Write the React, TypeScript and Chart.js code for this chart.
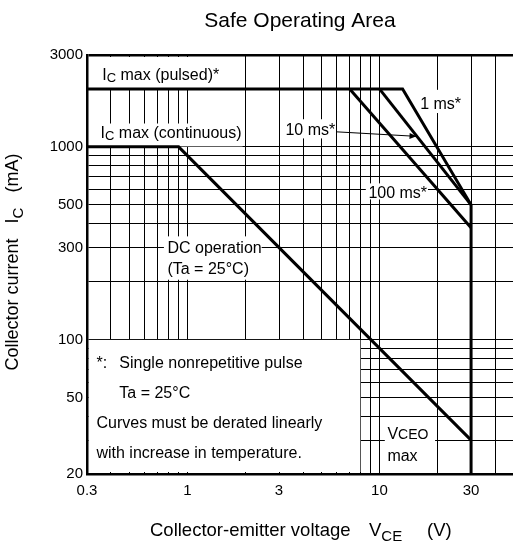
import React, { useEffect, useRef } from 'react';
import { Chart, registerables } from 'chart.js';

Chart.register(...registerables);

// ---- data ----
const chartTitle = 'Safe Operating Area';
const xGridValues = [0.3, 0.4, 0.5, 0.6, 0.7, 0.8, 0.9, 1, 2, 3, 4, 5, 6, 7, 8, 9, 10, 20, 30, 40];
const xTickLabels = [0.3, 1, 3, 10, 30];
const yGridValues = [20, 30, 40, 50, 60, 70, 80, 90, 100, 200, 300, 400, 500, 600, 700, 800, 900, 1000, 3000];
const yTickLabels = [20, 50, 100, 300, 500, 1000, 3000];

// pulsed Ic max + 1 ms limit + VCEO max
const envelopeX = [0.3, 13.2, 30, 30];
const envelopeY = [2000, 2000, 500, 20];
// 10 ms
const ms10X = [10, 30];
const ms10Y = [2000, 500];
// 100 ms
const ms100X = [7, 30];
const ms100Y = [2000, 380];
// DC operation (incl. Ic max continuous)
const dcX = [0.3, 0.9, 30];
const dcY = [1000, 1000, 30];

const curves = [
  { x: envelopeX, y: envelopeY },
  { x: ms10X, y: ms10Y },
  { x: ms100X, y: ms100Y },
  { x: dcX, y: dcY },
];

const FONT = '"Liberation Sans", Arial, Helvetica, sans-serif';

type Part = { t: string; s: number; dy?: number };

function drawParts(ctx: CanvasRenderingContext2D, parts: Part[], x: number, baseline: number) {
  let cx = x;
  for (const p of parts) {
    ctx.font = `${p.s}px ${FONT}`;
    ctx.fillText(p.t, cx, baseline + (p.dy || 0));
    cx += ctx.measureText(p.t).width;
  }
  return cx;
}
function partsWidth(ctx: CanvasRenderingContext2D, parts: Part[]) {
  let w = 0;
  for (const p of parts) {
    ctx.font = `${p.s}px ${FONT}`;
    w += ctx.measureText(p.t).width;
  }
  return w;
}

// label backgrounds (data-space rectangles) that hide grid lines
const labelBoxes = [
  { x0: 0.3, x1: 1.95, y0: 3000, y1: 2000 },
  { x0: 0.3, x1: 1.95, y0: 1330, y1: 1000 },
  { x0: 0.75, x1: 2.45, y0: 345, y1: 203 },
  { x0: 3.12, x1: 5.9, y0: 1400, y1: 1100 },
  { x0: 15.8, x1: 27.5, y0: 1990, y1: 1490 },
  { x0: 8.44, x1: 18.0, y0: 650, y1: 530 },
  { x0: 10.6, x1: 19.6, y0: 36, y1: 20 },
  { x0: 0.3, x1: 8, y0: 100, y1: 20 },
];

const S = 16;
const SUB = 13;
const labels: { parts: Part[]; x: number; y: number }[] = [
  { parts: [{ t: 'I', s: S }, { t: 'C', s: SUB, dy: 2 }, { t: ' max (pulsed)*', s: S }], x: 0.36, y: 2370 },
  { parts: [{ t: 'I', s: S }, { t: 'C', s: SUB, dy: 2 }, { t: ' max (continuous)', s: S }], x: 0.353, y: 1197 },
  { parts: [{ t: 'DC operation', s: S }], x: 0.787, y: 300 },
  { parts: [{ t: '(Ta = 25°C)', s: S }], x: 0.787, y: 234 },
  { parts: [{ t: '10 ms*', s: S }], x: 3.24, y: 1241 },
  { parts: [{ t: '1 ms*', s: S }], x: 16.3, y: 1675 },
  { parts: [{ t: '100 ms*', s: S }], x: 8.76, y: 583 },
  { parts: [{ t: 'V', s: S }, { t: 'CEO', s: 14, dy: 0 }], x: 11.0, y: 32.4 },
  { parts: [{ t: 'max', s: S }], x: 11.0, y: 25.1 },
  { parts: [{ t: '*:', s: S }], x: 0.336, y: 76 },
  { parts: [{ t: 'Single nonrepetitive pulse', s: S }], x: 0.442, y: 76 },
  { parts: [{ t: 'Ta = 25°C', s: S }], x: 0.442, y: 53 },
  { parts: [{ t: 'Curves must be derated linearly', s: S }], x: 0.336, y: 37 },
  { parts: [{ t: 'with increase in temperature.', s: S }], x: 0.336, y: 26 },
];

const arrowFrom = { x: 5.98, y: 1197 };
const arrowTo = { x: 15.6, y: 1134 };

const annotationPlugin = {
  id: 'soaAnnotations',
  beforeDatasetsDraw(chart: any) {
    const { ctx, scales } = chart;
    const xs = scales.x;
    const ys = scales.y;
    const px = (v: number) => xs.getPixelForValue(v);
    const py = (v: number) => ys.getPixelForValue(v);
    const area = chart.chartArea;
    ctx.save();
    ctx.fillStyle = '#ffffff';
    for (const b of labelBoxes) {
      let l = px(b.x0) + 0.5;
      let r = px(b.x1) - 0.5;
      let t = py(b.y0) + 0.5;
      let btm = py(b.y1) - 0.5;
      if (l < area.left + 2) l = area.left + 2;
      if (btm > area.bottom - 2) btm = area.bottom - 2;
      if (t < area.top + 2) t = area.top + 2;
      ctx.fillRect(l, t, r - l, btm - t);
    }
    ctx.fillStyle = '#000';
    ctx.textBaseline = 'alphabetic';
    ctx.textAlign = 'left';
    for (const lb of labels) {
      const base = py(lb.y) + 0.358 * S;
      drawParts(ctx, lb.parts, px(lb.x), base);
    }
    // arrow for 10 ms
    const ax0 = px(arrowFrom.x), ay0 = py(arrowFrom.y);
    const ax1 = px(arrowTo.x), ay1 = py(arrowTo.y);
    ctx.strokeStyle = '#000';
    ctx.lineWidth = 1;
    ctx.beginPath();
    ctx.moveTo(ax0, ay0);
    ctx.lineTo(ax1, ay1);
    ctx.stroke();
    const ang = Math.atan2(ay1 - ay0, ax1 - ax0);
    const hl = 7, hw = 3;
    ctx.beginPath();
    ctx.moveTo(ax1, ay1);
    ctx.lineTo(ax1 - hl * Math.cos(ang) + hw * Math.sin(ang), ay1 - hl * Math.sin(ang) - hw * Math.cos(ang));
    ctx.lineTo(ax1 - hl * Math.cos(ang) - hw * Math.sin(ang), ay1 - hl * Math.sin(ang) + hw * Math.cos(ang));
    ctx.closePath();
    ctx.fill();
    ctx.restore();
  },
  afterDraw(chart: any) {
    const { ctx } = chart;
    ctx.save();
    ctx.fillStyle = '#000';
    ctx.textBaseline = 'alphabetic';
    ctx.textAlign = 'left';
    // chart title
    ctx.font = `21px ${FONT}`;
    const tw = ctx.measureText(chartTitle).width;
    ctx.fillText(chartTitle, 300 - tw / 2, 27);
    // x-axis title
    drawParts(ctx, [{ t: 'Collector-emitter voltage', s: 18.5 }], 150, 536);
    drawParts(ctx, [{ t: 'V', s: 18.5 }, { t: 'CE', s: 15, dy: 5 }], 369, 536);
    drawParts(ctx, [{ t: '(V)', s: 18.5 }], 427, 536);
    // y-axis title (rotated, reading upward)
    const yParts: Part[] = [
      { t: 'Collector current   ', s: 18 },
      { t: 'I', s: 18 },
      { t: 'C', s: 15, dy: 5 },
      { t: '   (mA)', s: 18 },
    ];
    const yw = partsWidth(ctx, yParts);
    ctx.translate(12, 262);
    ctx.rotate(-Math.PI / 2);
    drawParts(ctx, yParts, -yw / 2, 6);
    ctx.restore();
  },
};

export default function App() {
  const ref = useRef<HTMLCanvasElement | null>(null);
  useEffect(() => {
    const canvas = ref.current;
    if (!canvas) return;
    const chart = new Chart(canvas, {
      type: 'scatter',
      data: {
        datasets: curves.map((c) => ({
          data: c.x.map((x, i) => ({ x, y: c.y[i] })),
          showLine: true,
          borderColor: '#000',
          backgroundColor: '#000',
          borderWidth: 3,
          pointRadius: 0,
          pointHoverRadius: 0,
          borderJoinStyle: 'miter' as const,
          borderCapStyle: 'butt' as const,
          fill: false,
          tension: 0,
        })),
      },
      options: {
        responsive: false,
        animation: false,
        devicePixelRatio: 1,
        layout: { padding: { top: 55, left: 0, right: 0, bottom: 0 } },
        plugins: {
          legend: { display: false },
          tooltip: { enabled: false },
          title: { display: false },
        },
        scales: {
          x: {
            type: 'logarithmic',
            min: 0.3,
            max: 49.6,
            afterBuildTicks: (s: any) => {
              s.ticks = xGridValues.map((v) => ({ value: v }));
            },
            afterFit: (s: any) => {
              s.height = 69;
            },
            ticks: {
              autoSkip: false,
              maxRotation: 0,
              minRotation: 0,
              padding: 8,
              color: '#000',
              font: { family: FONT, size: 15 },
              callback: (v: any) => (xTickLabels.includes(Number(v)) ? String(v) : ''),
            },
            grid: { color: '#000', lineWidth: 1, drawTicks: false },
            border: { color: '#000', width: 2.5 },
          },
          y: {
            type: 'logarithmic',
            min: 20,
            max: 3000,
            afterBuildTicks: (s: any) => {
              s.ticks = yGridValues.map((v) => ({ value: v }));
            },
            afterFit: (s: any) => {
              s.width = 87;
            },
            ticks: {
              autoSkip: false,
              padding: 4,
              color: '#000',
              font: { family: FONT, size: 15 },
              callback: (v: any) => (yTickLabels.includes(Number(v)) ? String(v) : ''),
            },
            grid: {
              color: '#000',
              lineWidth: (c: any) => (c.tick && c.tick.value === 3000 ? 2.5 : 1),
              drawTicks: false,
            },
            border: { color: '#000', width: 2.5 },
          },
        },
      } as any,
      plugins: [annotationPlugin],
    });
    return () => chart.destroy();
  }, []);
  return (
    <div style={{ position: 'absolute', left: 0, top: 0, width: 513, height: 543, background: '#fff' }}>
      <canvas ref={ref} width={513} height={543} style={{ width: 513, height: 543, display: 'block' }} />
    </div>
  );
}
